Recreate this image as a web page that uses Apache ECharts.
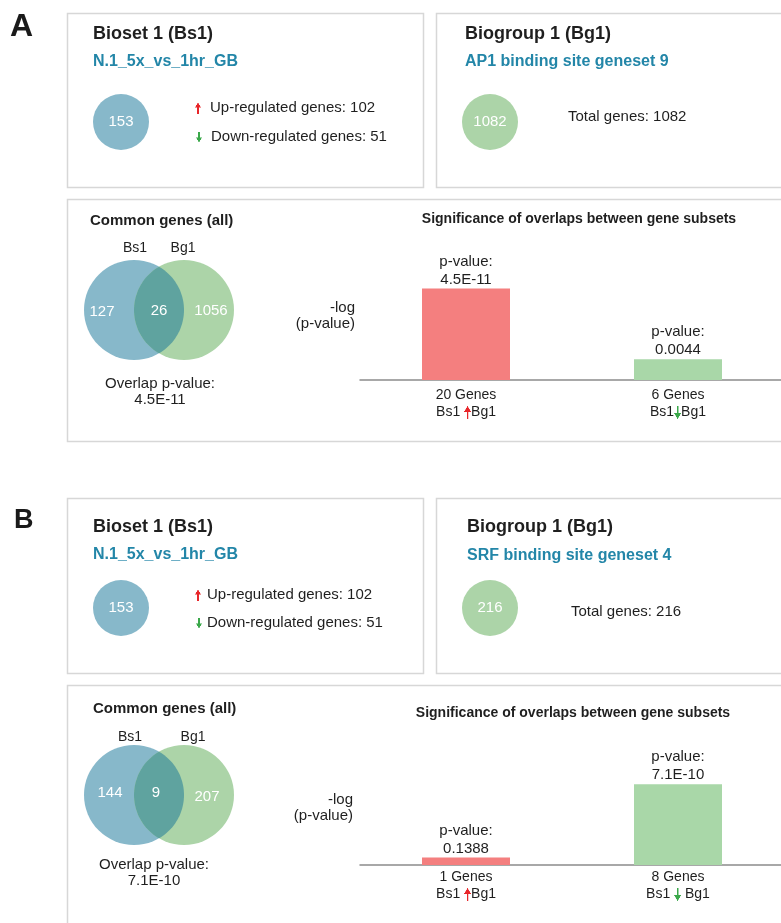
<!DOCTYPE html>
<html>
<head>
<meta charset="utf-8">
<script src="https://cdn.jsdelivr.net/npm/echarts@6/dist/echarts.min.js"></script>
<style>
  html, body { margin: 0; padding: 0; background: #ffffff; }
  #chart { width: 781px; height: 923px; }
</style>
</head>
<body>
<div id="chart"></div>
<script>
// ---- data ----
const panelLetters = ['A', 'B'];
const biosetTitles = ['Bioset 1 (Bs1)', 'Bioset 1 (Bs1)'];
const biosetNames = ['N.1_5x_vs_1hr_GB', 'N.1_5x_vs_1hr_GB'];
const biosetTotals = [153, 153];
const upRegulated = [102, 102];
const downRegulated = [51, 51];
const biogroupTitles = ['Biogroup 1 (Bg1)', 'Biogroup 1 (Bg1)'];
const biogroupNames = ['AP1 binding site geneset 9', 'SRF binding site geneset 4'];
const biogroupTotals = [1082, 216];
const vennOnlyBs = [127, 144];
const vennShared = [26, 9];
const vennOnlyBg = [1056, 207];
const overlapPValues = ['4.5E-11', '7.1E-10'];
const subsetGenes = [[20, 6], [1, 8]];
const subsetPValues = [['4.5E-11', '0.0044'], ['0.1388', '7.1E-10']];
const subsetDirections = ['up', 'down'];
const subsetSpacing = [[['Bs1 ', ''], ['Bs1', '']], [['Bs1 ', ''], ['Bs1 ', ' ']]];

// ---- styling ----
const FONT = '"Liberation Sans", Arial, Helvetica, sans-serif';
const TEXT = '#1f1f1f';
const TEAL = '#2386a8';
const BOX = '#d7d7d7';
const BLUE = '#87b8ca';
const GREEN = '#acd4a8';
const LENS = '#5fa39f';
const BAR_UP = '#f47f7f';
const BAR_DOWN = '#a9d7a8';
const ARROW_UP = '#e8262a';
const ARROW_DOWN = '#3aa84a';

// per-panel layout
const layout = [
  {
    letter: { x: 10, y: 27, size: 32 },
    box1: [67, 13, 356, 174], box2: [436, 13, 390, 174], lower: [67, 199, 760, 242],
    bsTitleY: 34, bsNameY: 62, circleY: 122,
    upY: 108, downY: 137, upTextX: 210, downTextX: 211,
    bgX: 465, bgTitleY: 34, bgNameY: 62, totalX: 568, totalY: 117,
    commonX: 90, commonY: 221, bsLabelX: 135, bgLabelX: 183, setLabelY: 248,
    vennY: 310, vennNums: [[102, 312], [159, 311], [211, 311]],
    overlapX: 160, overlapY: 384,
    logX: 355, logY: 308,
    barTitleX: 579, barTitleY: 219,
    gridTop: 274, labelMargin: 7
  },
  {
    letter: { x: 14, y: 521, size: 27 },
    box1: [67, 498, 356, 175], box2: [436, 498, 390, 175], lower: [67, 685, 760, 300],
    bsTitleY: 527, bsNameY: 555, circleY: 608,
    upY: 595, downY: 623, upTextX: 207, downTextX: 207,
    bgX: 467, bgTitleY: 527, bgNameY: 556, totalX: 571, totalY: 612,
    commonX: 93, commonY: 709, bsLabelX: 130, bgLabelX: 193, setLabelY: 737,
    vennY: 795, vennNums: [[110, 793], [156, 793], [207, 797]],
    overlapX: 154, overlapY: 865,
    logX: 353, logY: 800,
    barTitleX: 573, barTitleY: 713,
    gridTop: 759, labelMargin: 4
  }
];

const VENN_R = 50;
const VENN_BLUE_X = 134;
const VENN_GREEN_X = 184;
const BAR_GRID_LEFT = 360;
const BAR_GRID_WIDTH = 424;
const BAR_GRID_HEIGHT = 106;
const Y_MAX = 12;

// small thin-shaft arrow with a filled head, drawn once onto a canvas
const ARROW_W = 6, ARROW_H = 11;
function arrowCanvas(color, dir) {
  const s = 4;
  const c = document.createElement('canvas');
  c.width = ARROW_W * s; c.height = ARROW_H * s;
  const g = c.getContext('2d');
  g.scale(s, s);
  g.fillStyle = color;
  if (dir === 'up') {
    g.beginPath(); g.moveTo(3, 0); g.lineTo(6, 5); g.lineTo(0, 5); g.closePath(); g.fill();
    g.fillRect(2.25, 4, 1.5, 7);
  } else {
    g.beginPath(); g.moveTo(3, 11); g.lineTo(6, 6); g.lineTo(0, 6); g.closePath(); g.fill();
    g.fillRect(2.25, 0, 1.5, 7);
  }
  return c;
}
const upArrowImg = arrowCanvas(ARROW_UP, 'up');
const downArrowImg = arrowCanvas(ARROW_DOWN, 'down');

function arrow(cx, cy, dir) {
  return {
    type: 'image', silent: true,
    style: {
      image: dir === 'up' ? upArrowImg : downArrowImg,
      x: cx - ARROW_W / 2, y: cy - ARROW_H / 2, width: ARROW_W, height: ARROW_H
    }
  };
}

function txt(text, x, y, size, opts) {
  opts = opts || {};
  return {
    type: 'text', x: x, y: y, silent: true,
    style: {
      text: text,
      font: (opts.bold ? 'bold ' : '') + size + 'px ' + FONT,
      fill: opts.color || TEXT,
      textAlign: opts.align || 'left', align: opts.align || 'left',
      textVerticalAlign: 'middle', verticalAlign: 'middle'
    }
  };
}

function box(r) {
  return {
    type: 'rect', silent: true,
    shape: { x: r[0] + 0.5, y: r[1] + 0.5, width: r[2], height: r[3] },
    style: { fill: 'none', stroke: BOX, lineWidth: 1.5 }
  };
}

function circle(cx, cy, r, color) {
  return { type: 'circle', silent: true, shape: { cx: cx, cy: cy, r: r }, style: { fill: color } };
}

// lens-shaped intersection of two equal circles on the same row
function lens(x1, x2, cy, r) {
  const half = Math.acos(((x2 - x1) / 2) / r);
  const pts = [];
  const n = 48;
  // right arc belongs to the left circle, left arc to the right circle
  for (let k = 0; k <= n; k++) {
    const a = -half + (2 * half) * k / n;
    pts.push([x1 + r * Math.cos(a), cy + r * Math.sin(a)]);
  }
  for (let k = 0; k <= n; k++) {
    const a = Math.PI - half + (2 * half) * k / n;
    pts.push([x2 + r * Math.cos(a), cy + r * Math.sin(a)]);
  }
  return { type: 'polygon', silent: true, shape: { points: pts }, style: { fill: LENS } };
}

const graphics = [];
const grids = [], xAxes = [], yAxes = [], series = [];

layout.forEach(function (L, i) {
  // panel letter
  graphics.push(txt(panelLetters[i], L.letter.x, L.letter.y, L.letter.size, { bold: true, color: '#1a1a1a' }));

  // boxes
  graphics.push(box(L.box1), box(L.box2), box(L.lower));

  // bioset card
  graphics.push(txt(biosetTitles[i], 93, L.bsTitleY, 18, { bold: true }));
  graphics.push(txt(biosetNames[i], 93, L.bsNameY, 16, { bold: true, color: TEAL }));
  graphics.push(circle(121, L.circleY, 28, BLUE));
  graphics.push(txt(String(biosetTotals[i]), 121, L.circleY, 15, { color: '#ffffff', align: 'center' }));
  graphics.push(arrow(198, L.upY, 'up'));
  graphics.push(txt('Up-regulated genes: ' + upRegulated[i], L.upTextX, L.upY, 15));
  graphics.push(arrow(199, L.downY, 'down'));
  graphics.push(txt('Down-regulated genes: ' + downRegulated[i], L.downTextX, L.downY, 15));

  // biogroup card
  graphics.push(txt(biogroupTitles[i], L.bgX, L.bgTitleY, 18, { bold: true }));
  graphics.push(txt(biogroupNames[i], L.bgX, L.bgNameY, 16, { bold: true, color: TEAL }));
  graphics.push(circle(490, L.circleY, 28, GREEN));
  graphics.push(txt(String(biogroupTotals[i]), 490, L.circleY, 15, { color: '#ffffff', align: 'center' }));
  graphics.push(txt('Total genes: ' + biogroupTotals[i], L.totalX, L.totalY, 15));

  // venn diagram
  graphics.push(txt('Common genes (all)', L.commonX, L.commonY, 15, { bold: true }));
  graphics.push(txt('Bs1', L.bsLabelX, L.setLabelY, 14, { align: 'center' }));
  graphics.push(txt('Bg1', L.bgLabelX, L.setLabelY, 14, { align: 'center' }));
  graphics.push(circle(VENN_BLUE_X, L.vennY, VENN_R, BLUE));
  graphics.push(circle(VENN_GREEN_X, L.vennY, VENN_R, GREEN));
  graphics.push(lens(VENN_BLUE_X, VENN_GREEN_X, L.vennY, VENN_R));
  const nums = [vennOnlyBs[i], vennShared[i], vennOnlyBg[i]];
  nums.forEach(function (n, k) {
    graphics.push(txt(String(n), L.vennNums[k][0], L.vennNums[k][1], 15, { color: '#ffffff', align: 'center' }));
  });
  graphics.push(txt('Overlap p-value:', L.overlapX, L.overlapY, 15, { align: 'center' }));
  graphics.push(txt(overlapPValues[i], L.overlapX, L.overlapY + 16, 15, { align: 'center' }));

  // bar chart captions
  graphics.push(txt('-log', L.logX, L.logY, 15, { align: 'right' }));
  graphics.push(txt('(p-value)', L.logX, L.logY + 16, 15, { align: 'right' }));
  graphics.push(txt('Significance of overlaps between gene subsets', L.barTitleX, L.barTitleY, 14, { bold: true, align: 'center' }));

  // bar chart: bar height is -log10 of the stated p-value
  grids.push({
    left: BAR_GRID_LEFT, top: L.gridTop, width: BAR_GRID_WIDTH, height: BAR_GRID_HEIGHT,
    containLabel: false, outerBoundsMode: 'none'
  });
  const genes = subsetGenes[i];
  const pv = subsetPValues[i];
  const sp = subsetSpacing[i];
  xAxes.push({
    type: 'category', gridIndex: i,
    data: genes.map(function (g, k) { return g + ' Genes ' + subsetDirections[k]; }),
    axisLine: { lineStyle: { color: '#8c8c8c', width: 1.5 } },
    axisTick: { show: false },
    axisLabel: {
      interval: 0, margin: L.labelMargin,
      formatter: function (v, k) {
        const arrowTag = subsetDirections[k] === 'up' ? '{up| }' : '{dn| }';
        return '{t|' + genes[k] + ' Genes}\n{t|' + sp[k][0] + '}' + arrowTag + '{t|' + sp[k][1] + 'Bg1}';
      },
      rich: {
        t: { fontSize: 14, fontFamily: FONT, color: TEXT, lineHeight: 17, verticalAlign: 'middle' },
        up: { width: ARROW_W, height: ARROW_H, lineHeight: 17, verticalAlign: 'middle', padding: [0, 1, 2, 0], backgroundColor: { image: upArrowImg } },
        dn: { width: ARROW_W, height: ARROW_H, lineHeight: 17, verticalAlign: 'middle', padding: [0, 1, 2, 0], backgroundColor: { image: downArrowImg } }
      }
    }
  });
  yAxes.push({ type: 'value', gridIndex: i, min: 0, max: Y_MAX, show: false });
  series.push({
    type: 'bar', xAxisIndex: i, yAxisIndex: i,
    barWidth: 88,
    data: pv.map(function (p, k) {
      return {
        value: -Math.log10(parseFloat(p)),
        itemStyle: { color: subsetDirections[k] === 'up' ? BAR_UP : BAR_DOWN }
      };
    }),
    label: {
      show: true, position: 'top', distance: 0,
      formatter: function (d) { return 'p-value:\n' + pv[d.dataIndex]; },
      fontSize: 15, lineHeight: 18, fontFamily: FONT, color: TEXT
    },
    emphasis: { disabled: true },
    silent: true
  });
});

const chart = echarts.init(document.getElementById('chart'), null, { renderer: 'canvas' });
chart.setOption({
  backgroundColor: '#ffffff',
  animation: false,
  textStyle: { fontFamily: FONT },
  grid: grids,
  xAxis: xAxes,
  yAxis: yAxes,
  series: series,
  graphic: { elements: graphics }
});
</script>
</body>
</html>
